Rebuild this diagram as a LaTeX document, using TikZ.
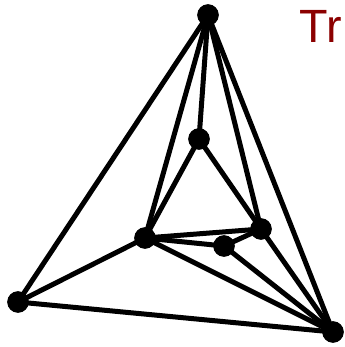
\documentclass[tikz,border=0pt]{standalone}
\usepackage{fontspec}
\setmainfont{Liberation Sans}
\definecolor{trred}{RGB}{139,0,0}
\begin{document}
\begin{tikzpicture}[x=0.75pt,y=-0.75pt,
  vtx/.style={circle,fill=black,inner sep=0pt,minimum size=16pt},
  edge/.style={line width=3.75pt}]
\useasboundingbox (0,0) rectangle (345,347);
\node[vtx] (T) at (208,15) {};
\node[vtx] (M) at (199,139) {};
\node[vtx] (LM) at (145,238) {};
\node[vtx] (S) at (224,246) {};
\node[vtx] (RM) at (261,229) {};
\node[vtx] (BL) at (18,302) {};
\node[vtx] (BR) at (333,332) {};
\draw[edge] (T.center) -- (BL.center);
\draw[edge] (T.center) -- (M.center);
\draw[edge] (T.center) -- (LM.center);
\draw[edge] (T.center) -- (RM.center);
\draw[edge] (T.center) -- (BR.center);
\draw[edge] (BL.center) -- (LM.center);
\draw[edge] (BL.center) -- (BR.center);
\draw[edge] (LM.center) -- (M.center);
\draw[edge] (M.center) -- (RM.center);
\draw[edge] (LM.center) -- (RM.center);
\draw[edge] (LM.center) -- (S.center);
\draw[edge] (S.center) -- (RM.center);
\draw[edge] (LM.center) -- (BR.center);
\draw[edge] (S.center) -- (BR.center);
\draw[edge] (RM.center) -- (BR.center);
\foreach \n in {T,M,LM,S,RM,BL,BR} \fill (\n) circle (8pt);
\node[anchor=base west,inner sep=0pt,text=trred,font=\fontsize{35}{35}\selectfont] (tr) at (299,42) {Tr};
\end{tikzpicture}
\end{document}
